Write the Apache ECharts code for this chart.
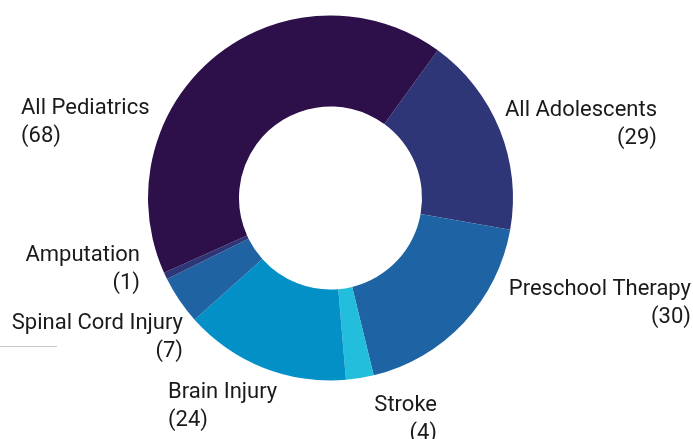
<!DOCTYPE html>
<html>
<head>
<meta charset="utf-8">
<script src="https://cdn.jsdelivr.net/npm/echarts@6/dist/echarts.min.js"></script>
<style>
  html, body { margin: 0; padding: 0; background: #fff; }
  #chart { width: 693px; height: 439px; }
</style>
</head>
<body>
<div id="chart"></div>
<script>
// 分类与数值（顺时针，从右上开始）
const categories = ['All Adolescents', 'Preschool Therapy', 'Stroke', 'Brain Injury', 'Spinal Cord Injury', 'Amputation', 'All Pediatrics']
const counts = [29, 30, 4, 24, 7, 1, 68]
const colors = ['#2e3678', '#1e64a4', '#22bedc', '#0390c6', '#1f63a3', '#2e3678', '#2d0f49']

// 标签摆放位置（文字块左/右边缘与顶部）
const labelSpots = [
  { x: 657, y: 96, align: 'right' },
  { x: 691, y: 275, align: 'right' },
  { x: 437, y: 391, align: 'right' },
  { x: 168, y: 378, align: 'left' },
  { x: 183, y: 309, align: 'right' },
  { x: 140, y: 241, align: 'right' },
  { x: 21, y: 94, align: 'left' }
]

const chart = echarts.init(document.getElementById('chart'))

const option = {
  animation: false,
  graphic: [
    {
      type: 'line',
      shape: { x1: 0, y1: 346.5, x2: 57, y2: 346.5 },
      style: { stroke: '#c8c8c8', lineWidth: 1 }
    }
  ],
  series: [
    {
      type: 'pie',
      center: [330.5, 198],
      radius: [91.5, 182.5],
      startAngle: 54,
      clockwise: true,
      avoidLabelOverlap: false,
      emphasis: { disabled: true },
      label: {
        show: true,
        position: 'outside',
        formatter: '{b}\n({c})',
        fontFamily: 'Roboto',
        fontSize: 22,
        lineHeight: 28,
        color: '#1a1a1a'
      },
      labelLine: { show: false },
      labelLayout: function (params) {
        const s = labelSpots[params.dataIndex]
        return { x: s.x, y: s.y, align: s.align, verticalAlign: 'top' }
      },
      data: categories.map((name, i) => ({
        name: name,
        value: counts[i],
        itemStyle: { color: colors[i] }
      }))
    }
  ]
}

chart.setOption(option)
</script>
</body>
</html>
